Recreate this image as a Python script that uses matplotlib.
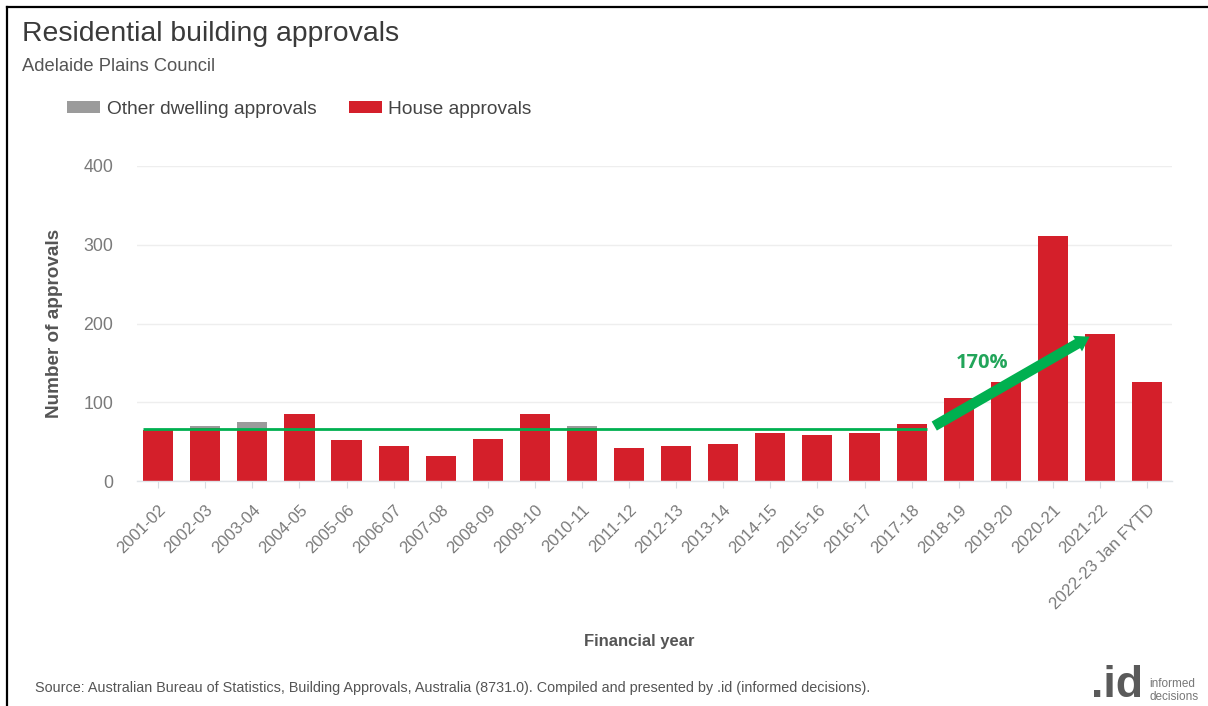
import matplotlib
matplotlib.use("Agg")
import matplotlib.pyplot as plt
from matplotlib.patches import Patch, FancyArrowPatch
from matplotlib.lines import Line2D

plt.rcParams['font.family'] = ['Liberation Sans', 'DejaVu Sans']

# Financial years and approvals
years = ['2001-02', '2002-03', '2003-04', '2004-05', '2005-06', '2006-07',
         '2007-08', '2008-09', '2009-10', '2010-11', '2011-12', '2012-13',
         '2013-14', '2014-15', '2015-16', '2016-17', '2017-18', '2018-19',
         '2019-20', '2020-21', '2021-22', '2022-23 Jan FYTD']
house = [65, 67, 66, 85, 52, 44, 32, 53, 85, 67, 42, 44,
         47, 61, 59, 61, 72, 105, 126, 311, 187, 126]
other = [0, 3, 9, 0, 0, 0, 0, 0, 0, 3, 0, 0,
         0, 0, 0, 0, 0, 0, 0, 0, 0, 0]

# Long-run level and growth annotation
trend_level = 66
trend_last_idx = 16
growth_start = (16.43, 68)
growth_end = (19.83, 185)
growth_label = '170%'
growth_label_pos = (17.5, 150)

RED = '#d41f2a'
GREY = '#9b9b9b'
GREEN = '#00b050'
TEXT = '#3a3a3a'
TICK = '#7a7a7a'

W, H = 1208, 706
fig = plt.figure(figsize=(W / 100, H / 100), dpi=100)
ax = fig.add_axes([137 / W, 1 - 481 / H, (1172 - 137) / W, (481 - 166) / H])

x = list(range(len(years)))
bw = 0.64
ax.bar(x, house, width=bw, color=RED, zorder=2)
ax.bar(x, other, width=bw, bottom=house, color=GREY, zorder=2)

ax.set_xlim(-0.45, len(years) - 1 + 0.53)
ax.set_ylim(0, 400)
ax.set_yticks([0, 100, 200, 300, 400])
ax.grid(axis='y', color='#eeeeee', linewidth=1, zorder=0)
ax.set_axisbelow(True)
for s in ['top', 'right', 'left']:
    ax.spines[s].set_visible(False)
ax.spines['bottom'].set_color('#dfe4e8')
ax.spines['bottom'].set_linewidth(1)

ax.tick_params(axis='y', length=0, pad=17, labelsize=12.8, labelcolor=TICK)
ax.tick_params(axis='x', length=5, width=0.8, color='#d8dde2', pad=10,
               labelsize=12, labelcolor=TICK)
ax.set_xticks(x)
ax.set_xticklabels(years, rotation=45, ha='right', rotation_mode='anchor')

ax.set_ylabel('Number of approvals', fontsize=13.6, fontweight='bold',
              color='#555555')
ax.set_xlabel('Financial year', fontsize=12, fontweight='bold',
              color='#555555')
ax.yaxis.set_label_coords(-(137 - 63) / (1172 - 137), 0.5)
ax.xaxis.set_label_coords(0.485, -(634 - 481) / (481 - 166))

# Flat level line across the earlier years
ax.plot([-bw / 2, trend_last_idx + bw / 2], [trend_level, trend_level],
        color=GREEN, linewidth=2, zorder=3, solid_capstyle='butt')

# Growth arrow
arrow = FancyArrowPatch(growth_start, growth_end,
                        arrowstyle='simple,head_length=1.0,head_width=1.3,tail_width=0.75',
                        mutation_scale=10, color=GREEN, zorder=4, linewidth=0)
ax.add_patch(arrow)
ax.text(*growth_label_pos, growth_label, color='#22a55a', fontsize=14.5,
        fontweight='bold', ha='center', va='center', family='Open Sans', zorder=5)

# Titles
fig.text(22 / W, 1 - 41 / H, 'Residential building approvals', fontsize=20.4,
         color=TEXT, va='baseline', ha='left')
fig.text(22 / W, 1 - 71 / H, 'Adelaide Plains Council', fontsize=13.2,
         color='#555555', va='baseline', ha='left')

# Legend
handles = [Patch(facecolor=GREY, edgecolor='none', label='Other dwelling approvals'),
           Patch(facecolor=RED, edgecolor='none', label='House approvals')]
fig.legend(handles=handles, loc='center left', bbox_to_anchor=(67 / W, 1 - 109 / H),
           ncol=2, frameon=False, borderpad=0, borderaxespad=0,
           handlelength=1.72, handleheight=0.57, handletextpad=0.36,
           columnspacing=1.67, fontsize=13.8, labelcolor='#444444')

# Footer
fig.text(35 / W, 1 - 688 / H,
         'Source: Australian Bureau of Statistics, Building Approvals, Australia (8731.0). '
         'Compiled and presented by .id (informed decisions).',
         fontsize=10.4, color='#555555', va='center', ha='left')
fig.text(1091 / W, 0, '.id', fontsize=32, fontweight='bold',
         color='#5a5a5a', va='bottom', ha='left')
fig.text(1149 / W, 1 - 684 / H, 'informed', fontsize=8.5, color='#777777',
         va='center', ha='left')
fig.text(1149 / W, 1 - 697 / H, 'decisions', fontsize=8.5, color='#777777',
         va='center', ha='left')

# Frame lines at top and left
fig.add_artist(Line2D([7 / W, 1], [1 - 7 / H, 1 - 7 / H], color='black',
                      linewidth=1.6, transform=fig.transFigure))
fig.add_artist(Line2D([7 / W, 7 / W], [0, 1 - 7 / H], color='black',
                      linewidth=1.6, transform=fig.transFigure))

fig.savefig('out.png', dpi=100, facecolor='white')
